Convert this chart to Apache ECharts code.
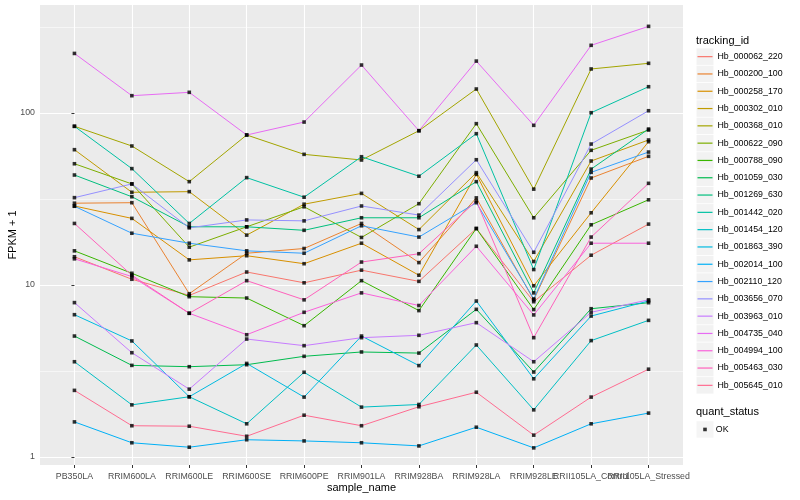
<!DOCTYPE html>
<html>
<head>
<meta charset="utf-8">
<script src="https://cdn.jsdelivr.net/npm/echarts@6/dist/echarts.min.js"></script>
<style>html,body{margin:0;padding:0;background:#fff}#c{width:800px;height:500px}</style>
</head>
<body>
<div id="c"></div>
<script>
// ---------------- data ----------------
const categories = ['PB350LA','RRIM600LA','RRIM600LE','RRIM600SE','RRIM600PE','RRIM901LA','RRIM928BA','RRIM928LA','RRIM928LE','RRII105LA_Control','RRII105LA_Stressed'];
const trackingIds = ['Hb_000062_220','Hb_000200_100','Hb_000258_170','Hb_000302_010','Hb_000368_010','Hb_000622_090','Hb_000788_090','Hb_001059_030','Hb_001269_630','Hb_001442_020','Hb_001454_120','Hb_001863_390','Hb_002014_100','Hb_002110_120','Hb_003656_070','Hb_003963_010','Hb_004735_040','Hb_004994_100','Hb_005463_030','Hb_005645_010'];
const seriesColors = ['#F8766D','#EA8331','#D89000','#C09B00','#A3A500','#7CAE00','#39B600','#00BB4E','#00BF7D','#00C1A3','#00BFC4','#00BAE0','#00B0F6','#35A2FF','#9590FF','#C77CFF','#E76BF3','#FA62DB','#FF62BC','#FF6C91'];
const yTickValues = [1, 10, 100];
const yMinorValues = [3.1623, 31.623, 316.23];
const quantStatus = ['OK'];

// FPKM + 1 per sample (in category order)
const Hb_000062_220 = [14.6, 10.8, 8.7, 11.9, 10.3, 12.2, 10.5, 21.3, 8.0, 14.9, 22.6];
const Hb_000200_100 = [29.9, 30.1, 8.9, 15.3, 16.3, 22.8, 13.5, 32.1, 8.2, 41.9, 56.0];
const Hb_000258_170 = [28.8, 24.4, 14.0, 14.8, 13.3, 17.5, 11.4, 44.0, 9.9, 26.3, 68.1];
const Hb_000302_010 = [61.2, 34.6, 34.9, 19.5, 29.5, 34.1, 21.0, 45.0, 13.7, 52.6, 69.7];
const Hb_000368_010 = [83.7, 64.3, 39.9, 74.5, 57.5, 53.3, 78.9, 137.9, 36.1, 180.3, 194.5];
const Hb_000622_090 = [50.7, 38.7, 16.6, 21.8, 28.5, 18.9, 29.7, 86.7, 24.6, 60.7, 79.6];
const Hb_000788_090 = [15.8, 11.7, 8.55, 8.4, 5.8, 10.6, 7.1, 21.3, 7.2, 22.4, 31.3];
const Hb_001059_030 = [5.05, 3.41, 3.35, 3.44, 3.85, 4.08, 4.02, 7.22, 3.12, 7.28, 7.89];
const Hb_001269_630 = [43.6, 32.6, 21.8, 21.8, 20.8, 24.6, 24.6, 39.9, 9.0, 47.2, 80.7];
const Hb_001442_020 = [83.7, 47.5, 22.8, 42.1, 32.4, 55.7, 42.9, 75.8, 12.3, 100.4, 142.2];
const Hb_001454_120 = [3.58, 2.01, 2.24, 1.56, 3.11, 1.95, 2.02, 4.48, 1.88, 4.75, 6.23];
const Hb_001863_390 = [6.72, 4.73, 2.24, 3.5, 2.23, 5.05, 3.4, 8.07, 2.85, 6.6, 8.07];
const Hb_002014_100 = [1.6, 1.21, 1.14, 1.26, 1.24, 1.21, 1.16, 1.49, 1.13, 1.56, 1.8];
const Hb_002110_120 = [28.7, 20.0, 17.5, 15.8, 15.3, 22.1, 19.0, 30.1, 8.3, 45.2, 59.3];
const Hb_003656_070 = [32.2, 38.7, 21.5, 23.9, 23.6, 28.8, 25.5, 53.5, 15.5, 66.0, 103.1];
const Hb_003963_010 = [7.9, 4.04, 2.48, 4.85, 4.44, 4.94, 5.1, 6.04, 3.58, 6.94, 8.2];
const Hb_004735_040 = [222, 126.1, 131.9, 74.5, 88.6, 190.1, 78.9, 200.4, 84.8, 247.5, 319];
const Hb_004994_100 = [14.2, 11.2, 6.85, 5.14, 6.94, 9.0, 7.6, 16.8, 6.7, 17.5, 17.5];
const Hb_005463_030 = [22.8, 11.4, 6.85, 10.6, 8.2, 13.6, 15.2, 30.8, 4.94, 19.0, 39.0];
const Hb_005645_010 = [2.44, 1.52, 1.51, 1.32, 1.75, 1.52, 1.96, 2.38, 1.34, 2.23, 3.24];

const seriesValues = [Hb_000062_220, Hb_000200_100, Hb_000258_170, Hb_000302_010, Hb_000368_010,
  Hb_000622_090, Hb_000788_090, Hb_001059_030, Hb_001269_630, Hb_001442_020, Hb_001454_120,
  Hb_001863_390, Hb_002014_100, Hb_002110_120, Hb_003656_070, Hb_003963_010, Hb_004735_040,
  Hb_004994_100, Hb_005463_030, Hb_005645_010];

// ---------------- chart ----------------
const FONT = '"Liberation Sans", Arial, Helvetica, sans-serif';
const xTickValues = categories.map((c, i) => i);
const xEvenValues = xTickValues.filter(i => i % 2 === 0);
const xOddValues = xTickValues.filter(i => i % 2 === 1);

const chart = echarts.init(document.getElementById('c'), null, {renderer: 'canvas'});

const lineSeries = trackingIds.map((id, k) => ({
  name: id,
  type: 'line',
  xAxisIndex: 0,
  data: seriesValues[k].map((v, i) => [i, v]),
  showSymbol: false,
  symbol: 'none',
  lineStyle: {color: seriesColors[k], width: 1},
  itemStyle: {color: seriesColors[k]},
  silent: true,
  animation: false,
  z: 2,
  emphasis: {disabled: true}
}));

lineSeries[0].markLine = {
  silent: true,
  z: 1,
  symbol: ['none', 'none'],
  label: {show: false},
  lineStyle: {color: '#FFFFFF', width: 0.55, type: 'solid', opacity: 1},
  emphasis: {disabled: true},
  animation: false,
  data: yMinorValues.map(v => ({yAxis: v}))
};

const pointData = [];
seriesValues.forEach(arr => arr.forEach((v, i) => pointData.push([i, v])));

const okSeries = {
  name: quantStatus[0],
  type: 'scatter',
  xAxisIndex: 0,
  data: pointData,
  symbol: 'rect',
  symbolSize: 3.6,
  itemStyle: {color: '#000000'},
  silent: true,
  animation: false,
  z: 4,
  emphasis: {disabled: true}
};

const legendText = {fontFamily: FONT, fontSize: 8.8, color: '#000000', lineHeight: 17.3};
const xLabelStyle = {color: '#4D4D4D', fontSize: 8.8, margin: 7, fontFamily: FONT, hideOverlap: false,
                     showMinLabel: true, showMaxLabel: true, formatter: v => categories[Math.round(v)]};

const option = {
  animation: false,
  backgroundColor: '#FFFFFF',
  textStyle: {fontFamily: FONT},
  title: [
    {text: 'tracking_id', left: 696, top: 34.5, padding: 0,
     textStyle: {fontFamily: FONT, fontSize: 11, fontWeight: 'normal', color: '#000000', lineHeight: 13}},
    {text: 'quant_status', left: 696, top: 405.5, padding: 0,
     textStyle: {fontFamily: FONT, fontSize: 11, fontWeight: 'normal', color: '#000000', lineHeight: 13}}
  ],
  legend: [
    {id: 'keysBg', orient: 'vertical', left: 696.5, top: 48, padding: 0, itemGap: 0,
     itemWidth: 17, itemHeight: 16.5, icon: 'rect', selectedMode: false,
     itemStyle: {color: '#F2F2F2', borderWidth: 0},
     data: trackingIds,
     textStyle: Object.assign({}, legendText, {color: 'rgba(0,0,0,0)'})},
    {id: 'keys', orient: 'vertical', left: 697.5, top: 48, padding: 0, itemGap: 0,
     itemWidth: 15, itemHeight: 1.2, icon: 'rect', selectedMode: false,
     data: trackingIds.map((id, k) => ({name: id, itemStyle: {color: seriesColors[k], borderWidth: 0}})),
     textStyle: legendText},
    {id: 'okBg', orient: 'vertical', left: 696.5, top: 420.8, padding: 0, itemGap: 0,
     itemWidth: 17, itemHeight: 16.5, icon: 'rect', selectedMode: false,
     itemStyle: {color: '#F2F2F2', borderWidth: 0},
     data: quantStatus,
     textStyle: Object.assign({}, legendText, {color: 'rgba(0,0,0,0)'})},
    {id: 'ok', orient: 'vertical', left: 703.2, top: 420.8, padding: 0, itemGap: 0,
     itemWidth: 3.6, itemHeight: 3.6, icon: 'rect', selectedMode: false,
     data: quantStatus.map(n => ({name: n, itemStyle: {color: '#000000', borderWidth: 0}})),
     textStyle: Object.assign({}, legendText, {padding: [0, 0, 0, 4]})}
  ],
  grid: {left: 40, right: 117, top: 5, bottom: 35, show: true, backgroundColor: '#EBEBEB',
         borderWidth: 0, containLabel: false, outerBoundsMode: 'none'},
  xAxis: [
    {
      type: 'value', min: -0.6, max: 10.6, position: 'bottom', offset: 0,
      axisLine: {show: false},
      axisTick: {show: true, length: 3, lineStyle: {color: '#333333', width: 1}, customValues: xTickValues},
      axisLabel: Object.assign({customValues: xEvenValues}, xLabelStyle),
      splitLine: {show: true, lineStyle: {color: '#FFFFFF', width: 1.1}},
      name: 'sample_name', nameLocation: 'middle', nameGap: 17, nameMoveOverlap: false,
      nameTextStyle: {fontFamily: FONT, fontSize: 11, color: '#000000'}
    },
    {
      type: 'value', min: -0.6, max: 10.6, position: 'bottom', offset: 0,
      axisLine: {show: false},
      axisTick: {show: false, customValues: xOddValues},
      axisLabel: Object.assign({customValues: xOddValues}, xLabelStyle),
      splitLine: {show: false}
    }
  ],
  yAxis: {
    type: 'log', logBase: 10, min: 0.8985, max: 424.6,
    axisLine: {show: false},
    axisTick: {show: true, length: 3, lineStyle: {color: '#333333', width: 1}, customValues: yTickValues},
    axisLabel: {customValues: yTickValues, formatter: v => String(v),
                color: '#4D4D4D', fontSize: 8.8, margin: 5, fontFamily: FONT,
                showMinLabel: true, showMaxLabel: true},
    splitLine: {show: true, lineStyle: {color: '#FFFFFF', width: 1.1}},
    minorSplitLine: {show: false},
    name: 'FPKM + 1', nameLocation: 'middle', nameGap: 22, nameRotate: 90, nameMoveOverlap: false,
    nameTextStyle: {fontFamily: FONT, fontSize: 11, color: '#000000'}
  },
  series: lineSeries.concat([okSeries])
};

chart.setOption(option);
</script>
</body>
</html>
